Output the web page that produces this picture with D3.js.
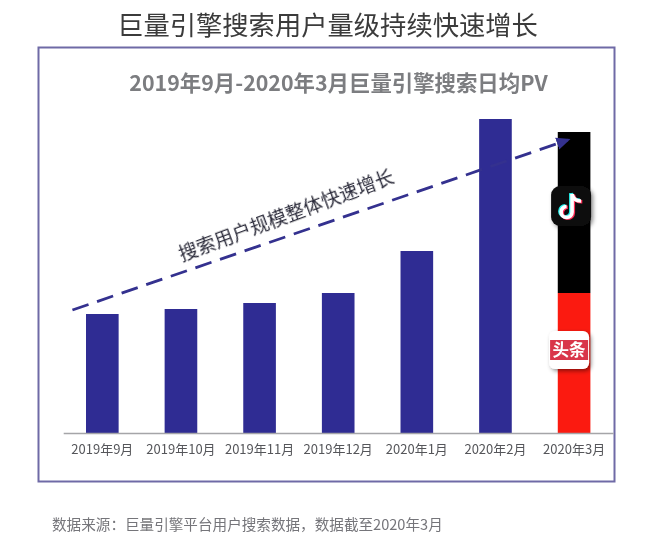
<!DOCTYPE html>
<html><head><meta charset="utf-8">
<script src="https://cdn.jsdelivr.net/npm/d3@7/dist/d3.min.js"></script>
<style>html,body{margin:0;padding:0;background:#fff}svg{display:block}text{font-family:"Noto Sans CJK SC","Noto Sans",sans-serif}</style>
</head><body><div id="c"></div>
<script>
const mainTitle = "巨量引擎搜索用户量级持续快速增长";
const chartTitle = "2019年9月-2020年3月巨量引擎搜索日均PV";
const trendLabel = "搜索用户规模整体快速增长";
const sourceNote = "数据来源：巨量引擎平台用户搜索数据，数据截至2020年3月";
const months = ["2019年9月","2019年10月","2019年11月","2019年12月","2020年1月","2020年2月","2020年3月"];
const blueValues = [119,124,130,140,182,314,0];
const toutiaoValues = [0,0,0,0,0,0,140];
const douyinValues = [0,0,0,0,0,0,161];
const trendIndex = [-0.38,5.92];
const trendValues = [123,293];

const svg = d3.select("#c").append("svg").attr("width",650).attr("height",550);
const defs = svg.append("defs");
const soft = defs.append("filter").attr("id","soft").attr("x","-5%").attr("y","-20%").attr("width","110%").attr("height","140%");
soft.append("feGaussianBlur").attr("stdDeviation",0.4);
const sh = defs.append("filter").attr("id","sh").attr("x","-30%").attr("y","-30%").attr("width","170%").attr("height","170%");
sh.append("feDropShadow").attr("dx",2).attr("dy",2).attr("stdDeviation",2).attr("flood-color","#000").attr("flood-opacity",0.45);
defs.append("marker").attr("id","arrow").attr("viewBox","0 0 10 10").attr("refX",8).attr("refY",5)
  .attr("markerWidth",5).attr("markerHeight",5).attr("orient","auto")
  .append("path").attr("d","M0,0.5L10,5L0,9.5Z").attr("fill","#34318f");

const x = d3.scaleBand().domain(months).range([63.2,613.2]).paddingInner(0.585).paddingOuter(0.29);
const y = d3.scaleLinear().domain([0,320]).range([433,113]);
const xi = d3.scaleLinear().domain([0,6]).range([x(months[0])+x.bandwidth()/2, x(months[6])+x.bandwidth()/2]);

svg.append("text").attr("x",327.5).attr("y",35).attr("text-anchor","middle").attr("font-size",26.3).attr("fill","#3a3a3a").attr("filter","url(#soft)").text(mainTitle);
svg.append("rect").attr("x",38.5).attr("y",47.5).attr("width",576).attr("height",434).attr("fill","#fff").attr("stroke","#6f6aa6").attr("stroke-width",2);
svg.append("text").attr("x",338.5).attr("y",91).attr("text-anchor","middle").attr("font-size",21.4).attr("font-weight",700).attr("fill","#7c7d80").attr("filter","url(#soft)").text(chartTitle);

const bw = x.bandwidth();
svg.append("g").selectAll("rect").data(months).join("rect")
  .attr("x",d=>x(d)).attr("width",bw)
  .attr("y",(d,i)=>y(blueValues[i])).attr("height",(d,i)=>y(0)-y(blueValues[i])).attr("fill","#2f2c93");
svg.append("g").selectAll("rect").data(months).join("rect")
  .attr("x",d=>x(d)).attr("width",bw)
  .attr("y",(d,i)=>y(toutiaoValues[i])).attr("height",(d,i)=>y(0)-y(toutiaoValues[i])).attr("fill","#fb1a10");
svg.append("g").selectAll("rect").data(months).join("rect")
  .attr("x",d=>x(d)).attr("width",bw)
  .attr("y",(d,i)=>y(toutiaoValues[i]+douyinValues[i])).attr("height",(d,i)=>y(0)-y(douyinValues[i])).attr("fill","#000");

const axis = svg.append("g").attr("transform",`translate(0,${y(0)})`).call(d3.axisBottom(x).tickSize(0).tickPadding(12));
axis.select(".domain").attr("stroke","#a5a5a8").attr("stroke-width",1.5);
axis.selectAll("text").attr("font-size",13).attr("fill","#55565a").attr("font-family",'"Noto Sans CJK SC"').attr("filter","url(#soft)");

svg.append("line").attr("x1",xi(trendIndex[0])).attr("y1",y(trendValues[0])).attr("x2",xi(trendIndex[1])).attr("y2",y(trendValues[1]))
  .attr("stroke","#34318f").attr("stroke-width",2.8).attr("stroke-dasharray","17 9").attr("marker-end","url(#arrow)");

const angle = Math.atan2(y(trendValues[1])-y(trendValues[0]), xi(trendIndex[1])-xi(trendIndex[0]))*180/Math.PI;
svg.append("text").attr("transform",`translate(${xi(2.37)},${y(211)}) rotate(${angle-1.5})`).attr("text-anchor","middle")
  .attr("font-size",19).attr("fill","#2c2c3a").attr("filter","url(#soft)").text(trendLabel);

const cx = x(months[6])+bw/2;
const tk = svg.append("g").attr("transform",`translate(${cx-3},${y(227)})`);
tk.append("rect").attr("x",-20).attr("y",-20).attr("width",40).attr("height",40).attr("rx",9).attr("fill","#0b0b0b").attr("filter","url(#sh)");
const note = "M1,-12 V6 A5.5,5.5 0 1 1 -4.5,0.5";
const hook = "M1,-12 C2,-7 6,-5 10,-5";
[["#25f4ee",-1.2,-0.8],["#fe2c55",1.2,0.8],["#ffffff",0,0]].forEach(([c,dx,dy])=>{
  const g = tk.append("g").attr("transform",`translate(${dx},${dy})`).attr("fill","none").attr("stroke",c).attr("stroke-width",3.6);
  g.append("path").attr("d",note); g.append("path").attr("d",hook);
});

const tt = svg.append("g").attr("transform",`translate(${cx-5},${y(83)})`);
tt.append("rect").attr("x",-20).attr("y",-19).attr("width",40).attr("height",38).attr("rx",6).attr("fill","#fff").attr("filter","url(#sh)");
tt.append("rect").attr("x",-19).attr("y",-10).attr("width",38).attr("height",20).attr("fill","#d9364a");
tt.append("text").attr("text-anchor","middle").attr("y",6).attr("font-size",16.5).attr("font-weight",700).attr("fill","#fff").attr("filter","url(#soft)").text("头条");

svg.append("text").attr("x",52).attr("y",530).attr("font-size",14.6).attr("fill","#75757a").attr("filter","url(#soft)").text(sourceNote);
</script></body></html>
